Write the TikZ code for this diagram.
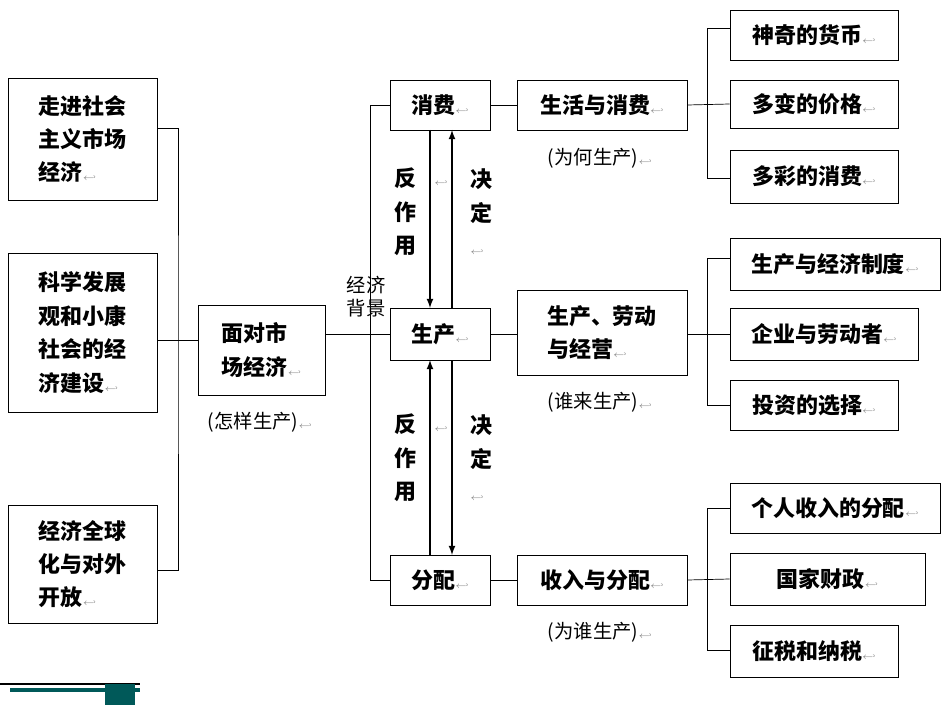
\documentclass[tikz,border=0pt]{standalone}
\usepackage{fontspec}
\setmainfont{Noto Sans CJK SC}
\usetikzlibrary{calc}
\newcommand{\rmk}{{\color{gray}\tiny$\hookleftarrow$}}

\begin{document}
\begin{tikzpicture}[x=0.02cm,y=-0.02cm]
	\tikzstyle{box}=[rectangle, draw, thin, font=\fontsize{12.5}{19}\selectfont\bfseries,
	inner sep=0pt, align=left]
	\tikzstyle{note}=[font=\fontsize{11}{13}\selectfont]
	\tikzstyle{link}=[thin]
	\useasboundingbox (0,0) rectangle (950,713);

	% left column
	\node[box] (zoujin) at (82.5,139) [minimum width=2.98cm, minimum height=2.44cm] {走进社会\\主义市场\\经济\rmk};
	\node[box] (kexue) at (82.5,332.5) [minimum width=2.98cm, minimum height=3.18cm] {科学发展\\观和小康\\社会的经\\济建设\rmk};
	\node[box] (quanqiu) at (82.5,564) [minimum width=2.98cm, minimum height=2.36cm] {经济全球\\化与对外\\开放\rmk};
	\coordinate (lj) at (178,340);
	\draw[link] (zoujin.east |- 0,128) -| (lj) -- (lj |- 0,570) -- (quanqiu.east |- 0,570);
	\draw[link] (kexue.east |- lj) -- (lj);

	% centre
	\node[box] (mianlin) at (261.5,350) [minimum width=2.54cm, minimum height=1.8cm] {面对市\\场经济\rmk};
	\node[note] at (260,422) {(怎样生产)\rmk};
	\draw[link] (lj) -- (mianlin.west |- lj);

	\node[box] (xiaofei) at (440,105) [minimum width=2cm, minimum height=1cm] {消费\rmk};
	\node[box] (shengchan) at (440,334) [minimum width=2cm, minimum height=1.04cm] {生产\rmk};
	\node[box] (fenpei) at (440,580) [minimum width=2cm, minimum height=1cm] {分配\rmk};
	\draw[link] (mianlin.east |- shengchan) -- (shengchan.west);
	\draw[link] (xiaofei.west) -| (370,580) -- (fenpei.west);
	\node[note, align=left] at (366,297) {经济\\背景};

	% arrows
	\draw[thick, ->, >=latex] (430,130) -- (430,308);
	\draw[thick, ->, >=latex] (452,308) -- (452,130);
	\draw[thick, ->, >=latex] (430,555) -- (430,360);
	\draw[thick, ->, >=latex] (452,360) -- (452,555);
	\foreach \yy in {0,246} {
		\node[box, draw=none] at (405,212+\yy) {反\\作\\用};
		\node[box, draw=none] at (481,212+\yy) {决\\定\\\rmk};
		\node at (441,183+\yy) {\rmk};
	}

	% second column
	\node[box] (shenghuo) at (602,105) [minimum width=3.4cm, minimum height=1cm] {生活与消费\rmk};
	\node[note] at (600,158) {(为何生产)\rmk};
	\node[box] (laodong) at (602,332.5) [minimum width=3.4cm, minimum height=1.7cm] {生产、劳动\\与经营\rmk};
	\node[note] at (600,402) {(谁来生产)\rmk};
	\node[box] (shouru) at (602,580) [minimum width=3.4cm, minimum height=1cm] {收入与分配\rmk};
	\node[note] at (600,632) {(为谁生产)\rmk};
	\draw[link] (xiaofei) -- (shenghuo);
	\draw[link] (shengchan.east) -- (laodong.west |- shengchan);
	\draw[link] (fenpei) -- (shouru);

	% right column
	\node[box] (huobi) at (814,35) [minimum width=3.36cm, minimum height=1cm] {神奇的货币\rmk};
	\node[box] (jiage) at (814,104) [minimum width=3.36cm, minimum height=0.96cm] {多变的价格\rmk};
	\node[box] (duocai) at (814,176.5) [minimum width=3.36cm, minimum height=1.06cm] {多彩的消费\rmk};
	\node[box] (zhidu) at (835,264) [minimum width=4.2cm, minimum height=1.04cm] {生产与经济制度\rmk};
	\node[box] (qiye) at (824,334) [minimum width=3.76cm, minimum height=1.04cm] {企业与劳动者\rmk};
	\node[box] (touzi) at (814,405) [minimum width=3.36cm, minimum height=1cm] {投资的选择\rmk};
	\node[box] (geren) at (835,508) [minimum width=4.2cm, minimum height=1cm] {个人收入的分配\rmk};
	\node[box] (caizheng) at (827.5,579) [minimum width=3.9cm, minimum height=1.04cm] {国家财政\rmk};
	\node[box] (zhengshui) at (814,651) [minimum width=3.36cm, minimum height=1.04cm] {征税和纳税\rmk};

	\draw[link] (huobi.west |- 0,28) -| (707,178) -- (duocai.west |- 0,178);
	\draw[link] (shenghuo.east) -- (jiage.west);
	\draw[link] (zhidu.west |- 0,258) -| (707,405) -- (touzi.west);
	\draw[link] (laodong.east |- qiye) -- (qiye.west);
	\draw[link] (geren.west) -| (707,650) -- (zhengshui.west |- 0,650);
	\draw[link] (shouru.east) -- (caizheng.west);

	% footer mark
	\draw[line width=1.2pt] (0,684) -- (140,684);
	\draw[teal!70!black, line width=2.5pt] (10,690) -- (140,690);
	\fill[teal!70!black] (105,684) rectangle (135,705);
\end{tikzpicture}
\end{document}
